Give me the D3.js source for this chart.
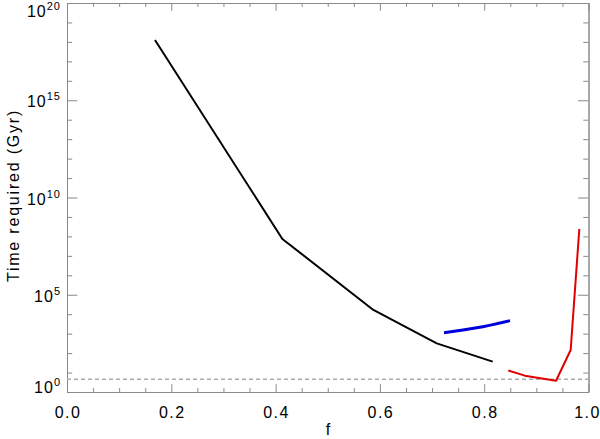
<!DOCTYPE html>
<html>
<head>
<meta charset="utf-8">
<script src="https://cdn.jsdelivr.net/npm/d3@7/dist/d3.min.js"></script>
<style>
  html, body { margin: 0; padding: 0; background: #fff; }
  svg { display: block; }
  text { font-family: "Liberation Sans", Arial, Helvetica, sans-serif; fill: #000; }
</style>
</head>
<body>
<svg id="chart" width="600" height="439"></svg>
<script>
// ---- data ----
const blackF   = [0.1687, 0.413, 0.5875, 0.709, 0.8163];
const blackLog = [18.1, 7.87, 4.22, 2.50, 1.56];
const blueF    = [0.723, 0.7856, 0.8495];
const blueLog  = [3.05, 3.30, 3.67];
const redF     = [0.846, 0.878, 0.9377, 0.9658, 0.9824];
const redLog   = [1.11, 0.84, 0.58, 2.16, 8.38];
const refTime  = 4.5; // dashed horizontal reference (Gyr)

const xMajorTicks = [0, 0.2, 0.4, 0.6, 0.8, 1.0];
const xTickLabels = ["0.0", "0.2", "0.4", "0.6", "0.8", "1.0"];
const yMajorExps  = [0, 5, 10, 15, 20];

const svg = d3.select("#chart");
const L = 67, R = 588.5, T = 3, B = 392;

const x = d3.scaleLinear().domain([0, 1]).range([L, R]);
const y = d3.scaleLog().domain([1, 1e20]).range([B, T]);

const axisColor = "#8a8a8a";
const xMajLen = 7.8, xMinLen = 3.9, yMajLen = 10.4, yMinLen = 5.2;

const xMinor = d3.range(0, 21).map(i => i * 0.05).filter(v => Math.abs(Math.round(v / 0.2) * 0.2 - v) > 1e-6);
const yMinor = d3.range(0, 21).filter(e => e % 5 !== 0).map(e => Math.pow(10, e));
const yMajor = yMajorExps.map(e => Math.pow(10, e));

function styleAxis(g) {
  g.selectAll("path.domain").attr("stroke", axisColor).attr("stroke-width", 1);
  g.selectAll(".tick line").attr("stroke", axisColor).attr("stroke-width", 1);
  g.selectAll(".tick text").remove();
}

// bottom axis
svg.append("g").attr("transform", `translate(0,${B})`)
  .call(d3.axisBottom(x).tickValues(xMajorTicks).tickSize(-xMajLen).tickSizeOuter(0)).call(styleAxis);
svg.append("g").attr("transform", `translate(0,${B})`)
  .call(d3.axisBottom(x).tickValues(xMinor).tickSize(-xMinLen).tickSizeOuter(0)).call(styleAxis);
// top axis
svg.append("g").attr("transform", `translate(0,${T})`)
  .call(d3.axisTop(x).tickValues(xMajorTicks).tickSize(-xMajLen).tickSizeOuter(0)).call(styleAxis);
svg.append("g").attr("transform", `translate(0,${T})`)
  .call(d3.axisTop(x).tickValues(xMinor).tickSize(-xMinLen).tickSizeOuter(0)).call(styleAxis);
// left axis
svg.append("g").attr("transform", `translate(${L},0)`)
  .call(d3.axisLeft(y).tickValues(yMajor).tickSize(-yMajLen).tickSizeOuter(0)).call(styleAxis);
svg.append("g").attr("transform", `translate(${L},0)`)
  .call(d3.axisLeft(y).tickValues(yMinor).tickSize(-yMinLen).tickSizeOuter(0)).call(styleAxis);
// right axis
svg.append("g").attr("transform", `translate(${R},0)`)
  .call(d3.axisRight(y).tickValues(yMajor).tickSize(-yMajLen).tickSizeOuter(0)).call(styleAxis);
svg.append("g").attr("transform", `translate(${R},0)`)
  .call(d3.axisRight(y).tickValues(yMinor).tickSize(-yMinLen).tickSizeOuter(0)).call(styleAxis);

// x tick labels
svg.append("g").selectAll("text").data(xMajorTicks).join("text")
  .attr("x", (d, i) => x(d) + (i === xMajorTicks.length - 1 ? -1 : 1))
  .attr("y", 418)
  .attr("text-anchor", "middle")
  .attr("font-size", 16)
  .attr("letter-spacing", "1.5px")
  .text((d, i) => xTickLabels[i]);

// y tick labels: 10^n
const yl = svg.append("g").selectAll("text").data(yMajorExps).join("text")
  .attr("x", 61)
  .attr("y", (e, i) => y(Math.pow(10, e)) + (i === 0 ? 1 : (i === yMajorExps.length - 1 ? 14 : 7)))
  .attr("text-anchor", "end")
  .attr("font-size", 16)
  .attr("letter-spacing", "1px");
yl.append("tspan").text("10");
yl.append("tspan").attr("font-size", 11).attr("dy", -7).text(e => String(e));

// axis titles
svg.append("text")
  .attr("x", 328).attr("y", 435)
  .attr("text-anchor", "middle").attr("font-size", 16)
  .text("f");
svg.append("text")
  .attr("transform", `translate(19,${(T + B) / 2 - 2}) rotate(-90)`)
  .attr("text-anchor", "middle").attr("font-size", 16)
  .attr("letter-spacing", "1.8px")
  .text("Time required (Gyr)");

// dashed reference line
svg.append("line")
  .attr("x1", x(0)).attr("x2", x(1))
  .attr("y1", y(refTime)).attr("y2", y(refTime))
  .attr("stroke", "#aaaaaa").attr("stroke-width", 1.6)
  .attr("stroke-dasharray", "4,3");

// series
const line = d3.line().x(d => x(d[0])).y(d => y(Math.pow(10, d[1])));
function drawSeries(fs, logs, color, w, curve) {
  svg.append("path")
    .datum(fs.map((f, i) => [f, logs[i]]))
    .attr("fill", "none")
    .attr("stroke", color)
    .attr("stroke-width", w)
    .attr("stroke-linejoin", "round")
    .attr("d", line.curve(curve));
}
drawSeries(blackF, blackLog, "#000000", 2, d3.curveLinear);
drawSeries(blueF, blueLog, "#0000dd", 3, d3.curveNatural);
drawSeries(redF, redLog, "#e00000", 2, d3.curveLinear);
</script>
</body>
</html>
